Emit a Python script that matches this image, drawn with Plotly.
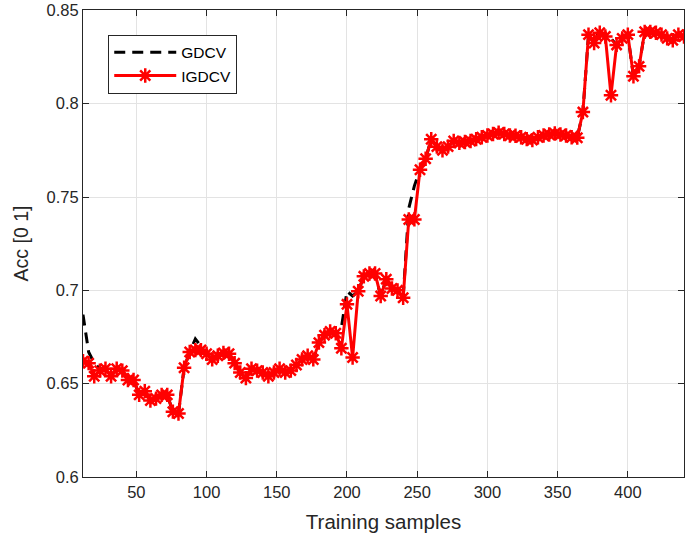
import plotly.graph_objects as go

# Training-set sizes (every 4 samples from 12 to 440)
samples = list(range(12, 441, 4))

# Accuracy of IGDCV at each training-set size
acc_igdcv = [
    0.662, 0.661, 0.654, 0.657, 0.658, 0.654, 0.658, 0.657, 0.652, 0.652,
    0.644, 0.646, 0.641, 0.642, 0.644, 0.644, 0.635, 0.634, 0.6585, 0.667,
    0.668, 0.668, 0.666, 0.663, 0.665, 0.6665, 0.666, 0.661, 0.656, 0.653,
    0.658, 0.657, 0.656, 0.654, 0.656, 0.658, 0.656, 0.657, 0.660, 0.663,
    0.665, 0.663, 0.672, 0.676, 0.678, 0.677, 0.669, 0.6925, 0.664, 0.6995,
    0.7075, 0.709, 0.709, 0.697, 0.706, 0.701, 0.700, 0.696, 0.738, 0.738,
    0.7646, 0.7705, 0.781, 0.777, 0.775, 0.777, 0.780, 0.779, 0.7795, 0.780,
    0.781, 0.782, 0.783, 0.7838, 0.7845, 0.7838, 0.783, 0.7828, 0.782, 0.781,
    0.7805, 0.782, 0.783, 0.7835, 0.784, 0.7835, 0.783, 0.782, 0.7818, 0.7955,
    0.837, 0.8325, 0.838, 0.836, 0.8045, 0.8315, 0.835, 0.837, 0.8147, 0.820,
    0.8385, 0.8385, 0.838, 0.837, 0.835, 0.834, 0.837, 0.836,
]

# GDCV follows IGDCV except at a handful of sizes
gdcv_diff = {
    12: 0.687, 16: 0.667, 20: 0.661, 24: 0.658,
    92: 0.674, 96: 0.670,
    196: 0.680, 200: 0.6995, 204: 0.697, 208: 0.6995,
    244: 0.744, 248: 0.756,
    376: 0.837, 388: 0.835,
}
acc_gdcv = [gdcv_diff.get(s, a) for s, a in zip(samples, acc_igdcv)]

x_ticks = [50, 100, 150, 200, 250, 300, 350, 400]
y_ticks = [0.6, 0.65, 0.7, 0.75, 0.8, 0.85]
y_tick_text = ["0.6", "0.65", "0.7", "0.75", "0.8", "0.85"]

axis_col = "#262626"
grid_col = "#e3e3e3"
font_family = "Liberation Sans, Arial, Helvetica, sans-serif"

fig = go.Figure()
fig.add_trace(go.Scatter(
    x=samples, y=acc_gdcv, mode="lines", name="GDCV",
    line=dict(color="black", width=3, dash="11px,7px"),
))
fig.add_trace(go.Scatter(
    x=samples, y=acc_igdcv, mode="lines+markers", name="IGDCV",
    line=dict(color="#ff0000", width=3),
    marker=dict(symbol="asterisk-open", size=12,
                line=dict(color="#ff0000", width=2.5)),
))

axis_common = dict(
    showline=True, linecolor=axis_col, linewidth=1, mirror="ticks",
    ticks="inside", ticklen=6, tickcolor=axis_col,
    showgrid=True, gridcolor=grid_col, gridwidth=1,
    zeroline=False, ticklabeloverflow="allow",
    tickfont=dict(family=font_family, size=16.5, color=axis_col),
)

fig.update_xaxes(
    range=[12, 440], tickvals=x_ticks,
    title=dict(text="Training samples",
               font=dict(family=font_family, size=20.5, color=axis_col),
               standoff=14),
    **axis_common,
)
fig.update_yaxes(
    range=[0.6, 0.8502], tickvals=y_ticks, ticktext=y_tick_text,
    title=dict(text="Acc [0 1]",
               font=dict(family=font_family, size=19.5, color=axis_col),
               standoff=12),
    **axis_common,
)

fig.update_layout(
    width=686, height=543,
    margin=dict(l=83, r=1, t=7, b=66),
    paper_bgcolor="white", plot_bgcolor="white",
    showlegend=True,
    legend=dict(
        x=0.042, y=0.947, xanchor="left", yanchor="top",
        bgcolor="white", bordercolor=axis_col, borderwidth=1,
        font=dict(family=font_family, size=15.5, color="black"),
        itemwidth=62, tracegroupgap=0,
    ),
)

fig.write_html("out.html")
